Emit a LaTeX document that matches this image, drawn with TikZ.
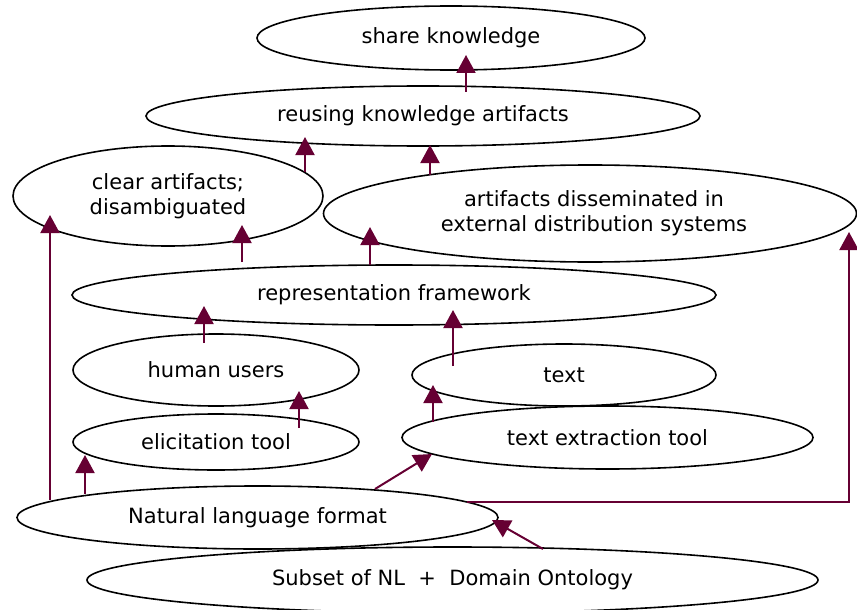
\documentclass[tikz,border=0pt]{standalone}
\usepackage{fontspec}
\setmainfont{DejaVu Sans}
\usetikzlibrary{shapes.geometric,arrows.meta}
\definecolor{maroon}{HTML}{660033}
\begin{document}
\begin{tikzpicture}[x=1pt,y=-1pt,
  goal/.style={ellipse,draw=black,line width=1.6pt,inner sep=0pt,align=center,
    font=\fontsize{21}{25}\selectfont},
  arr/.style={draw=maroon,line width=2pt,-{Triangle[width=19pt,length=18pt]}}]
\useasboundingbox (0,0) rectangle (857,610);
% goals
\node[goal,minimum width=388pt,minimum height=64pt] (sk) at (451,38) {share knowledge};
\node[goal,minimum width=554pt,minimum height=60pt] (reuse) at (423,116) {reusing knowledge artifacts};
\node[goal,minimum width=310pt,minimum height=100pt] (clear) at (168,196) {clear artifacts;\\disambiguated};
\node[goal,minimum width=533pt,minimum height=97pt] (dissem) at (590,213.5) {\hspace*{8pt}artifacts disseminated in\\\hspace*{8pt}external distribution systems};
\node[goal,minimum width=644pt,minimum height=60pt] (rep) at (394,295) {representation framework};
\node[goal,minimum width=286pt,minimum height=72pt] (human) at (216,370) {human users};
\node[goal,minimum width=304pt,minimum height=62pt] (text) at (564,375) {text};
\node[goal,minimum width=286pt,minimum height=56pt] (elic) at (216,442) {elicitation tool};
\node[goal,minimum width=411pt,minimum height=63pt] (tet) at (607.5,437.5) {text extraction tool};
\node[goal,minimum width=481pt,minimum height=63pt] (nl) at (257.5,517.5) {Natural language format};
\node[goal,minimum width=731pt,minimum height=66pt] (subset) at (452.5,580) {Subset of NL~~+~~Domain Ontology};
% connector end points
\coordinate (s1) at (466,92);  \coordinate (t1) at (466,55);
\coordinate (s2) at (305,172); \coordinate (t2) at (305,137);
\coordinate (s3) at (430,175); \coordinate (t3) at (430,145);
\coordinate (s4) at (242,262); \coordinate (t4) at (242,225);
\coordinate (s5) at (370,265); \coordinate (t5) at (370,227);
\coordinate (s6) at (204,343); \coordinate (t6) at (204,306);
\coordinate (s7) at (453,366); \coordinate (t7) at (453,310);
\coordinate (s8) at (299,428); \coordinate (t8) at (299,391);
\coordinate (s9) at (433,422); \coordinate (t9) at (433,385);
\coordinate (s10) at (85,494); \coordinate (t10) at (85,455);
\coordinate (s11) at (50,500); \coordinate (t11) at (50,215);
\coordinate (s12) at (375,489); \coordinate (t12) at (432,454);
\coordinate (s13) at (467,502); \coordinate (k13) at (849,502); \coordinate (t13) at (849,232);
\coordinate (s14) at (543,549); \coordinate (t14) at (492,520);
% connectors
\draw[arr] (s1) -- (t1);
\draw[arr] (s2) -- (t2);
\draw[arr] (s3) -- (t3);
\draw[arr] (s4) -- (t4);
\draw[arr] (s5) -- (t5);
\draw[arr] (s6) -- (t6);
\draw[arr] (s7) -- (t7);
\draw[arr] (s8) -- (t8);
\draw[arr] (s9) -- (t9);
\draw[arr] (s10) -- (t10);
\draw[arr] (s11) -- (t11);
\draw[arr] (s12) -- (t12);
\draw[arr] (s13) -- (k13) -- (t13);
\draw[arr] (s14) -- (t14);
\end{tikzpicture}
\end{document}
